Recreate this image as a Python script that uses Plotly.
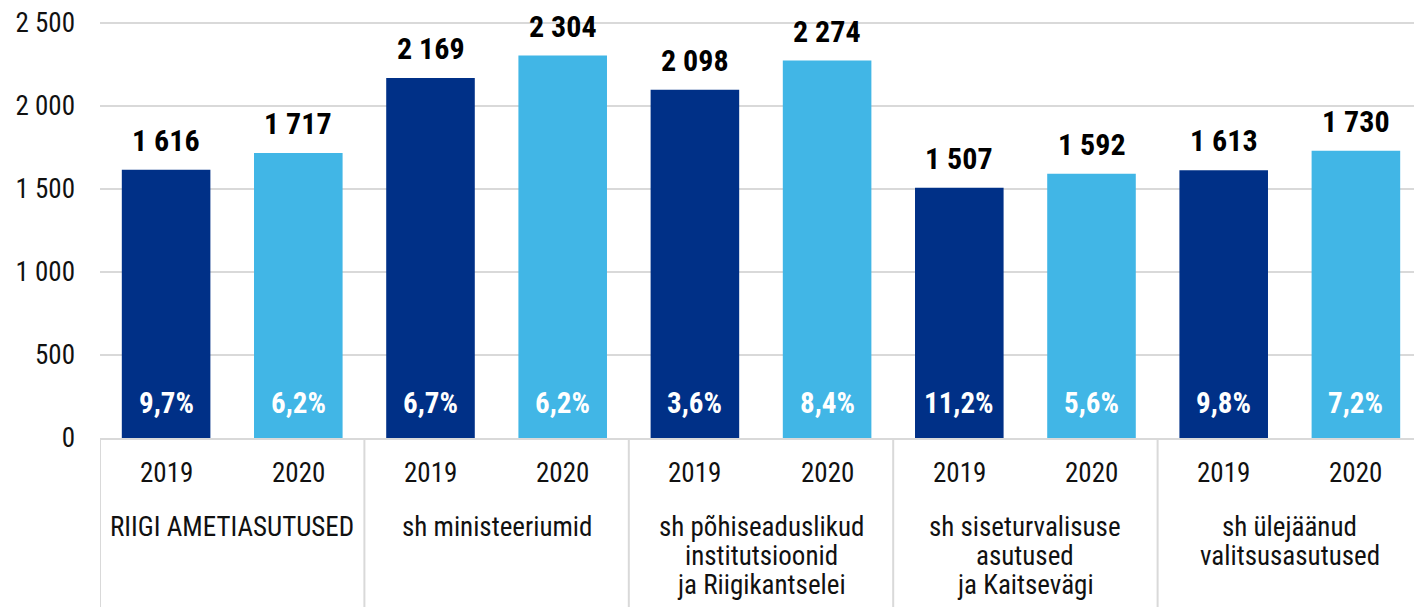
import plotly.graph_objects as go

groups = [
    ["RIIGI AMETIASUTUSED"],
    ["sh ministeeriumid"],
    ["sh põhiseaduslikud", "institutsioonid", "ja Riigikantselei"],
    ["sh siseturvalisuse", "asutused", "ja Kaitsevägi"],
    ["sh ülejäänud", "valitsusasutused"],
]
years = ["2019", "2020"]
values_2019 = [1616, 2169, 2098, 1507, 1613]
values_2020 = [1717, 2304, 2274, 1592, 1730]
pct_2019 = ["9,7%", "6,7%", "3,6%", "11,2%", "9,8%"]
pct_2020 = ["6,2%", "6,2%", "8,4%", "5,6%", "7,2%"]
y_ticks = [0, 500, 1000, 1500, 2000, 2500]

FONT = "Roboto Condensed, Liberation Sans Narrow, DejaVu Sans Condensed, Roboto, sans-serif"
DARK = "#003087"
LIGHT = "#41B6E6"
GREY = "#D9D9D9"

xs, vals, pcts, colors, yrs = [], [], [], [], []
for gi, (v19, v20, p19, p20) in enumerate(zip(values_2019, values_2020, pct_2019, pct_2020)):
    for k, (yr, v, p, c) in enumerate(((years[0], v19, p19, DARK), (years[1], v20, p20, LIGHT))):
        xs.append(gi * len(years) + k)
        vals.append(v)
        pcts.append(p)
        colors.append(c)
        yrs.append(yr)

fig = go.Figure()
fig.add_trace(go.Bar(
    x=xs, y=vals, marker_color=colors, marker_line_width=0,
    hoverinfo="skip", showlegend=False,
))

annotations = []
shapes = []
for x, v, p, yr in zip(xs, vals, pcts, yrs):
    annotations.append(dict(
        x=x, xref="x", y=v, yref="y", text=f"{v:,}".replace(",", " "),
        showarrow=False, yanchor="bottom", yshift=10,
        font=dict(family=FONT, size=30, color="#000000", weight="bold"),
    ))
    annotations.append(dict(
        x=x, xref="x", y=0, yref="y", text=p,
        showarrow=False, yanchor="middle", yshift=35,
        font=dict(family=FONT, size=29, color="#FFFFFF", weight="bold"),
    ))
    annotations.append(dict(
        x=x, xref="x", y=0, yref="paper", text=yr,
        showarrow=False, yanchor="middle", yshift=-35,
        font=dict(family=FONT, size=27, color="#111111"),
    ))

n = len(years)
for gi, lines in enumerate(groups):
    center = gi * n + (n - 1) / 2
    for j, line in enumerate(lines):
        annotations.append(dict(
            x=center, xref="x", y=0, yref="paper", text=line,
            showarrow=False, yanchor="middle", yshift=-89 - 29 * j,
            font=dict(family=FONT, size=27, color="#111111"),
        ))
for b in range(len(groups) + 1):
    xb = b * n - 0.5
    shapes.append(dict(
        type="line", xref="x", yref="paper", x0=xb, x1=xb, y0=0, y1=-0.5,
        line=dict(color=GREY, width=2), layer="below",
    ))

fig.update_layout(
    width=1422, height=607,
    margin=dict(l=92, r=8, t=12, b=177),
    plot_bgcolor="white", paper_bgcolor="white",
    font=dict(family=FONT, size=27, color="#111111"),
    bargap=0.33,
    separators=", ",
    annotations=annotations,
    shapes=shapes,
    xaxis=dict(
        range=[-0.5, len(xs) - 0.5], automargin=False,
        showline=True, linecolor=GREY, linewidth=2,
        showgrid=False, zeroline=False, showticklabels=False, ticks="",
        fixedrange=True,
    ),
    yaxis=dict(
        range=[0, 2518], tickmode="array", tickvals=y_ticks, tickformat=",d",
        automargin=False,
        showgrid=True, gridcolor=GREY, gridwidth=2,
        zeroline=False, showline=False,
        tickfont=dict(size=27, color="#111111"),
        ticklabelstandoff=24, ticklabeloverflow="allow",
        fixedrange=True,
    ),
)

fig.write_html("out.html")
